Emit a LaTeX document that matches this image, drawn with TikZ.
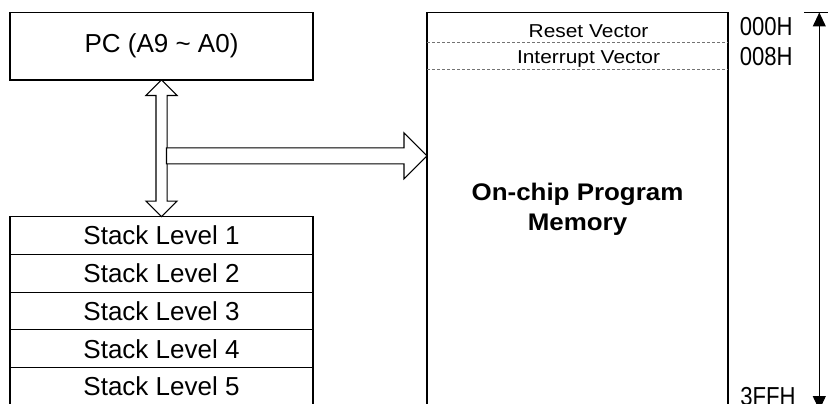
\documentclass[tikz,border=0pt]{standalone}
\usepackage{fontspec}
\setmainfont{Liberation Sans}
\newfontfamily\vecfont{Liberation Sans}[FakeStretch=1.12]
\newfontfamily\addrfont{Liberation Sans}[FakeStretch=0.85]
\newfontfamily\memfont{Liberation Sans}[FakeStretch=1.08]
\usetikzlibrary{positioning, shapes.arrows, arrows.meta, calc}
\tikzstyle{pcbox}=[rectangle, draw=black, line width=0.8pt, inner sep=0, outer sep=0, minimum width=227.25pt, minimum height=50.6pt, font=\fontsize{19.5}{23}\selectfont]
\tikzstyle{stackbox}=[rectangle, draw=black, line width=0.8pt, inner sep=0, outer sep=0, minimum width=227.25pt, minimum height=28.3pt, font=\fontsize{19.5}{23}\selectfont]
\tikzstyle{membox}=[rectangle, draw=black, line width=0.8pt, inner sep=0, outer sep=0, minimum width=225.75pt, minimum height=299.6pt, anchor=north west]
\tikzstyle{memtext}=[align=center, inner sep=0, font=\memfont\bfseries\fontsize{18}{22.5}\selectfont]
\tikzstyle{vecline}=[black!55, line width=0.6pt, dash pattern=on 2.25pt off 1.5pt]
\tikzstyle{veclabel}=[anchor=base, inner sep=0, font=\vecfont\fontsize{14}{17}\selectfont]
\tikzstyle{addr}=[anchor=base west, inner sep=0, font=\addrfont\fontsize{19.5}{23}\selectfont]
\tikzstyle{bus}=[double arrow, draw=black, fill=white, line width=0.8pt, inner xsep=0, inner ysep=3.75pt, outer sep=0, double arrow head extend=7.5pt, minimum height=102.5pt, rotate=90]
\tikzstyle{feed}=[single arrow, draw=black, fill=white, line width=0.8pt, inner xsep=0, inner ysep=5.625pt, outer sep=0, single arrow head extend=11.25pt, minimum height=195.4pt, anchor=tail]
\tikzstyle{addrscale}=[line width=0.8pt, {Triangle[width=9.75pt,length=10.5pt]}-{Triangle[width=9.75pt,length=10.5pt]}]

\begin{document}
\begin{tikzpicture}[x=0.75pt, y=-0.75pt]
            \useasboundingbox (0,0) rectangle (834,403);
            \clip (0,0) rectangle (834,403);
            %program counter and the stack below it
            \node[pcbox](pc) at (161.5,46.25){PC (A9 \textasciitilde{} A0)};
            \node[stackbox, below = 102.5pt of pc](s1){Stack Level 1};
            \foreach \n in {2,...,5}{
                \pgfmathtruncatemacro\nmm{\n -1}
                \node[stackbox, below = 0pt of s\nmm](s\n){Stack Level \n};
            }
            % program memory
            \node[membox](mem) at (427,12.5){};
            \node[memtext](memlbl) at (577.5,209.5){On-chip Program\\Memory};
            \coordinate (r1) at ([yshift=-22.5pt]mem.north west);
            \coordinate (r2) at ([yshift=-42.4pt]mem.north west);
            \draw[vecline] (r1) -- (r1 -| mem.east);
            \draw[vecline] (r2) -- (r2 -| mem.east);
            \node[veclabel](rst) at (588.5,37.7){Reset Vector};
            \node[veclabel](irq) at (588.5,63.3){Interrupt Vector};
            % address range
            \node[addr](a0) at (739.5,36){000H};
            \node[addr](a8) at (739.5,65){008H};
            \node[addr](af) at (740,405.4){3FFH};
            \coordinate (tl) at (804,12.5);
            \coordinate (tr) at (828,12.5);
            \coordinate (top) at (819.3,12.5);
            \coordinate (bot) at (819.3,410);
            \draw[line width=0.8pt] (tl) -- (tr);
            \draw[addrscale] (top) -- (bot);
            % address bus arrows
            \node[bus](bus) at ($(pc.south)!.5!(s1.north)$){};
            \coordinate (tap) at ($(bus.center)+(5,7.5)$);
            \node[feed](fd) at (tap){};
        \end{tikzpicture}
\end{document}
